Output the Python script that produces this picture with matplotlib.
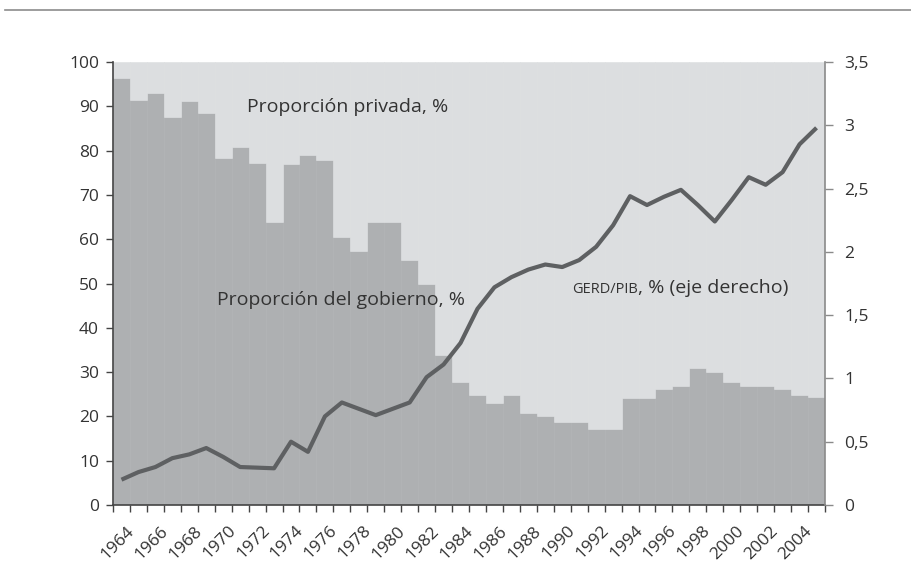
import matplotlib
matplotlib.use("Agg")
import matplotlib.pyplot as plt
from matplotlib.transforms import ScaledTranslation
import numpy as np

plt.rcParams['font.family'] = ['Open Sans', 'DejaVu Sans']

years = list(range(1964, 2006))

# Government share of R&D financing, %
gobierno = [96.4, 91.4, 92.9, 87.6, 91.2, 88.6, 78.4, 80.7, 77.1, 63.8,
            76.9, 79.0, 77.9, 60.4, 57.3, 63.8, 63.8, 55.3, 50.0, 33.9,
            27.8, 24.8, 23.1, 24.8, 20.7, 20.2, 18.8, 18.8, 17.1, 17.1,
            24.1, 24.1, 26.1, 26.8, 30.9, 30.0, 27.7, 26.8, 26.8, 26.1,
            24.8, 24.3]

# GERD / GDP ratio, % (right axis)
gerd_pib = [0.20, 0.26, 0.30, 0.37, 0.40, 0.45, 0.38, 0.30, 0.295, 0.29,
            0.50, 0.42, 0.70, 0.81, 0.76, 0.71, 0.76, 0.81, 1.01, 1.11,
            1.28, 1.55, 1.72, 1.80, 1.86, 1.90, 1.88, 1.935, 2.04, 2.21,
            2.44, 2.37, 2.435, 2.49, 2.37, 2.24, 2.41, 2.59, 2.53, 2.63,
            2.85, 2.98]

privada = [100 - g for g in gobierno]

left_ticks = list(range(0, 101, 10))
right_ticks = [0, 0.5, 1, 1.5, 2, 2.5, 3, 3.5]
right_labels = ['0', '0,5', '1', '1,5', '2', '2,5', '3', '3,5']
label_years = list(range(1964, 2005, 2))

C_PRIV = '#dcdee0'
C_GOB = '#aeb0b2'
C_LINE = '#5e6062'
C_TEXT = '#333333'
TICK_FS = 12.5

fig = plt.figure(figsize=(9.12, 5.79), dpi=100)
ax = fig.add_axes([113 / 912, 74 / 579, 712 / 912, 443 / 579])

x = np.array(years)
ax.bar(x, gobierno, width=1.0, color=C_GOB, edgecolor=C_GOB, linewidth=0.4, zorder=2)
ax.bar(x, privada, bottom=gobierno, width=1.0, color=C_PRIV, edgecolor=C_PRIV,
       linewidth=0.4, zorder=2)

ax.set_xlim(years[0] - 0.5, years[-1] + 0.5)
ax.set_ylim(0, 100)
ax.set_yticks(left_ticks)
ax.set_yticklabels([str(v) for v in left_ticks])
ax.tick_params(axis='y', direction='out', length=5, width=1, color='#444444',
               labelsize=TICK_FS, labelcolor=C_TEXT, pad=5)

# year ticks on bar boundaries, labels drawn separately
ax.set_xticks(np.arange(years[0] - 0.5, years[-1] + 1.0, 1.0))
ax.set_xticklabels([])
ax.tick_params(axis='x', direction='out', length=5, width=1, color='#444444')

tr = ax.get_xaxis_transform() + ScaledTranslation(0, -0.235, fig.dpi_scale_trans)
for yr in label_years:
    ax.text(yr + 0.6, 0, str(yr), transform=tr, rotation=45,
            rotation_mode='anchor', ha='right', va='center',
            fontsize=TICK_FS, color=C_TEXT)

for side in ['top', 'right']:
    ax.spines[side].set_visible(False)
ax.spines['left'].set_color('#444444')
ax.spines['bottom'].set_color('#444444')
ax.spines['left'].set_linewidth(1.2)
ax.spines['bottom'].set_linewidth(1.2)
ax.spines['left'].set_zorder(5)
ax.spines['bottom'].set_zorder(5)

ax2 = ax.twinx()
ax2.plot(x, gerd_pib, color=C_LINE, linewidth=3.0, solid_capstyle='butt',
         solid_joinstyle='round', zorder=3)
ax2.set_ylim(0, 3.5)
ax2.set_yticks(right_ticks)
ax2.set_yticklabels(right_labels)
ax2.tick_params(axis='y', direction='out', length=6, width=1, color='#8a8a8a',
                labelsize=TICK_FS, labelcolor=C_TEXT, pad=8)
for side in ['top', 'left', 'bottom']:
    ax2.spines[side].set_visible(False)
ax2.spines['right'].set_color('#8a8a8a')
ax2.spines['right'].set_linewidth(1.2)

ax.text(1971.4, 88.8, 'Proporción privada, %', fontsize=14, color=C_TEXT,
        va='baseline', ha='left', zorder=6)
ax.text(1969.64, 45.1, 'Proporción del gobierno, %', fontsize=14, color=C_TEXT,
        va='baseline', ha='left', zorder=6)
t1 = ax.text(1990.58, 47.9, 'GERD/PIB', fontsize=10.5, color=C_TEXT,
             va='baseline', ha='left', zorder=6)
ax.annotate(', % (eje derecho)', xy=(1, 0), xycoords=t1, fontsize=14,
            color=C_TEXT, va='bottom', ha='left', zorder=6,
            annotation_clip=False)

# thin rule across the top of the page
fig.add_artist(plt.Line2D([5 / 912, 1.0], [1 - 10 / 579, 1 - 10 / 579],
                          color='#8c8c8c', linewidth=1.2,
                          transform=fig.transFigure))

fig.savefig('out.png', dpi=100, facecolor='white')
